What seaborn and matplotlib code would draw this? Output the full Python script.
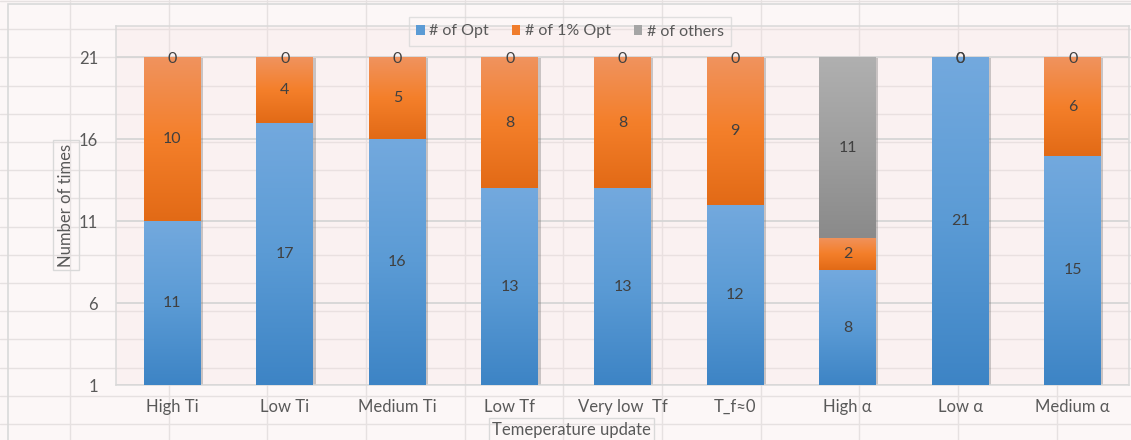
import numpy as np
import matplotlib
matplotlib.use("Agg")
import matplotlib.pyplot as plt
import seaborn as sns
from matplotlib.patches import Rectangle
from matplotlib.lines import Line2D
from matplotlib.colors import LinearSegmentedColormap
import matplotlib.patheffects as pe

# ---- data -------------------------------------------------------------
categories = ["High Ti", "Low Ti", "Medium Ti", "Low Tf", "Very low  Tf",
              "T_f≈0", "High α", "Low α", "Medium α"]
n_opt = [11, 17, 16, 13, 13, 12, 8, 21, 15]
n_1pct_opt = [10, 4, 5, 8, 8, 9, 2, 0, 6]
n_others = [0, 0, 0, 0, 0, 0, 11, 0, 0]
series_names = ["# of Opt", "# of 1% Opt", "# of others"]
y_ticks = [1, 6, 11, 16, 21]

# ---- styling ----------------------------------------------------------
sns.set_theme(style="white")
plt.rcParams["font.family"] = ["Lato", "DejaVu Sans"]

W, H = 1131, 440
fig = plt.figure(figsize=(W / 100, H / 100), dpi=100)
fig.patch.set_facecolor("#fcf7f7")

def fx(x):
    return x / W

def fy(y):
    return 1 - y / H

# worksheet cell lines behind the chart
cell_line = "#e6e1e1"
for k in range(11):
    x = 70 + 98.65 * k
    fig.add_artist(Line2D([fx(x), fx(x)], [0, 1], transform=fig.transFigure,
                          color=cell_line, lw=1, zorder=-5))
for k in range(16):
    y = 1 + 28.2 * k
    fig.add_artist(Line2D([0, 1], [fy(y), fy(y)], transform=fig.transFigure,
                          color=cell_line, lw=1, zorder=-5))
# chart area border
fig.add_artist(Rectangle((fx(8), fy(445)), 1.2, fy(4) - fy(445),
                         transform=fig.transFigure, fill=False,
                         edgecolor="#d9d9d9", lw=1.2, zorder=-4))

# ---- plot area --------------------------------------------------------
left, right, top, bottom = 116, 1129, 26, 385
ax = fig.add_axes([fx(left), fy(bottom), (right - left) / W, (bottom - top) / H])
ax.set_facecolor((0.96, 0.88, 0.88, 0.25))

gradients = [
    ["#3d84c5", "#5b9bd5", "#73a9de"],   # blue
    ["#e26a16", "#f47f2a", "#f0935e"],   # orange
    ["#8a8a8a", "#9e9e9e", "#b0b0b0"],   # gray
]
base_colors = ["#5b9bd5", "#f07d2c", "#a5a5a5"]

series = [n_opt, n_1pct_opt, n_others]
bottoms = np.zeros(len(categories))
segment_patches = []
for vals, col in zip(series, base_colors):
    n_before = len(ax.patches)
    sns.barplot(x=categories, y=vals, bottom=bottoms.copy(), color=col,
                width=0.506, errorbar=None, ax=ax, linewidth=0,
                saturation=1, zorder=2)
    segment_patches.append(ax.patches[n_before:])
    bottoms = bottoms + np.array(vals)

ymin = 1
ymax = ymin + (bottom - top) / 16.375

# gradient fill and soft shadow on every segment
grad = np.linspace(1, 0, 256).reshape(-1, 1)
for patches, stops in zip(segment_patches, gradients):
    cmap = LinearSegmentedColormap.from_list("seg", stops)
    for p in patches:
        x0, y0 = p.get_x(), p.get_y()
        w, h = p.get_width(), p.get_height()
        if h <= 0:
            p.set_visible(False)
            continue
        p.set_path_effects([pe.SimplePatchShadow(offset=(1.6, -0.6),
                                                 shadow_rgbFace="#6f6f6f",
                                                 alpha=0.35),
                            pe.Normal()])
        lo = max(y0, ymin)
        im = ax.imshow(grad, extent=[x0, x0 + w, lo, y0 + h], cmap=cmap,
                       aspect="auto", origin="upper", interpolation="bicubic",
                       zorder=3)
        im.set_clip_path(p)

ax.set_xlim(-0.5, len(categories) - 0.5)
ax.set_ylim(ymin, ymax)
ax.set_yticks(y_ticks)
ax.yaxis.grid(True, color="#d6d6d6", lw=1.3)
ax.set_axisbelow(True)
for s in ax.spines.values():
    s.set_color("#d9d9d9")
    s.set_linewidth(1.1)
ax.tick_params(axis="x", length=0, pad=10, labelsize=12, labelcolor="#595959")
ax.tick_params(axis="y", length=0, pad=13, labelsize=12, labelcolor="#595959")
ax.set_xlabel("")
ax.set_ylabel("")

# ---- data labels (centred on the visible part of each segment) --------
label_color = "#404040"
cum = np.zeros(len(categories))
for vals in series:
    for i, v in enumerate(vals):
        lo = max(cum[i], ymin)
        hi = cum[i] + v
        yc = (lo + hi) / 2 if v > 0 else hi - 0.12
        ax.text(i, yc, f"{v}", ha="center", va="center", fontsize=11.5,
                color=label_color, zorder=5)
    cum = cum + np.array(vals)

# ---- axis titles in boxes ---------------------------------------------
fig.text(fx(66), fy(205), "Number of times", rotation=90, ha="center",
         va="center", fontsize=12, color="#595959")
fig.add_artist(Rectangle((fx(53), fy(270)), (79 - 53) / W, (270 - 140) / H,
                         transform=fig.transFigure, fill=False,
                         edgecolor="#d9d9d9", lw=1))
fig.text(fx(571), fy(430), "Temeperature update", ha="center", va="center",
         fontsize=12, color="#595959")
fig.add_artist(Rectangle((fx(489), fy(445)), (654 - 489) / W, (445 - 418) / H,
                         transform=fig.transFigure, fill=False,
                         edgecolor="#d9d9d9", lw=1))

# ---- legend -----------------------------------------------------------
handles = [Rectangle((0, 0), 1, 1, facecolor=c, edgecolor="none")
           for c in base_colors]
leg = ax.legend(handles, series_names, loc="center", ncol=3,
                bbox_to_anchor=(fx(570), fy(31.5)), bbox_transform=fig.transFigure,
                frameon=True, fancybox=False, fontsize=11.5, handlelength=0.55,
                handleheight=0.55, handletextpad=0.3, columnspacing=1.4,
                borderpad=0.45, labelcolor="#595959")
leg.get_frame().set_edgecolor("#d9d9d9")
leg.get_frame().set_facecolor("none")
leg.get_frame().set_linewidth(1)
leg.set_zorder(6)

fig.savefig("out.png", dpi=100, facecolor=fig.get_facecolor())
